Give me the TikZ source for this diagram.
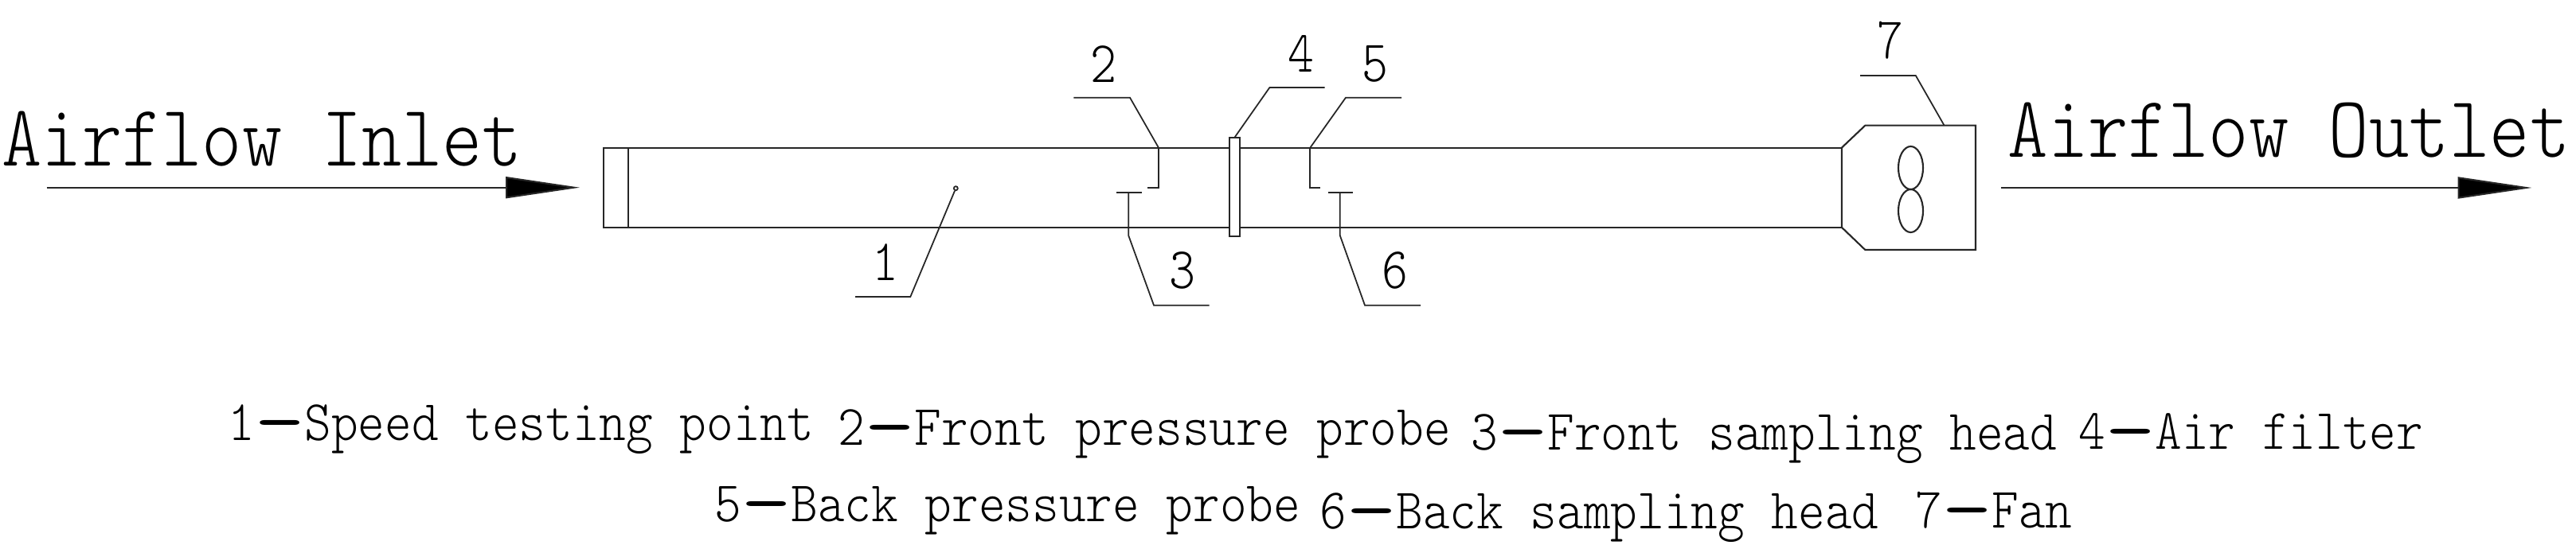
\documentclass[tikz,border=0pt]{standalone}
\usetikzlibrary{shapes.geometric}
\usetikzlibrary{arrows.meta,positioning}
\newcommand{\legdash}{\scalebox{1.85}[1]{\fontseries{b}\selectfont\textemdash}}
\tikzset{part line/.style={draw=black!85, line width=0.6pt}}
\tikzset{leader line/.style={draw=black!85, line width=0.5pt}}
\tikzset{flow arrow/.style={draw=black!85, line width=0.6pt, -{Triangle[length=0.93cm,width=0.27cm,fill=black]}}}
\tikzset{flow text/.style={anchor=base west, inner sep=0pt, font=\ttfamily\fontseries{l}\fontsize{31.3}{31.3}\selectfont, xscale=#1}}
\tikzset{part number/.style={anchor=base, inner sep=0pt, font=\ttfamily\fontseries{l}\fontsize{21}{21}\selectfont, xscale=0.85}}
\tikzset{legend text/.style={anchor=base west, inner sep=0pt, font=\ttfamily\fontseries{l}\fontsize{20.5}{20.5}\selectfont, xscale=#1}}
\tikzset{filter box/.style={part line, fill=white, minimum width=0.13cm, minimum height=1.24cm, inner sep=0pt}}
\tikzset{blade/.style={part line, ellipse, minimum width=0.31cm, minimum height=0.54cm, inner sep=0pt}}

\begin{document}
\begin{tikzpicture}
          \useasboundingbox (0,0) rectangle (32.35,6.9);
          % headings and flow arrows
          \node [flow text=0.87] (inlet)  at ( 0.02, 4.813) {Airflow Inlet};
          \node [flow text=0.873] (outlet) at (25.21, 4.923) {Airflow Outlet};
          \coordinate (inlet tail)  at ( 0.585, 4.543);
          \coordinate (inlet tip)   at ( 7.28,  4.543);
          \coordinate (outlet tail) at (25.126, 4.54);
          \coordinate (outlet tip)  at (31.796, 4.54);
          \draw [flow arrow] (inlet tail)  to (inlet tip);
          \draw [flow arrow] (outlet tail) to (outlet tip);

          % pipe
          \coordinate (pipe nw)  at ( 7.58,  5.043);
          \coordinate (pipe sw)  at ( 7.58,  4.043);
          \coordinate (pipe ne)  at (23.128, 5.043);
          \coordinate (pipe se)  at (23.128, 4.043);
          \coordinate (ring n)   at ( 7.89,  5.043);
          \coordinate (ring s)   at ( 7.89,  4.043);
          \draw [part line] (pipe ne) -- (pipe nw) -- (pipe sw) -- (pipe se);
          \draw [part line] (ring n) -- (ring s);

          % fan
          \coordinate (fan a) at (23.423, 5.323);
          \coordinate (fan b) at (24.81,  5.323);
          \coordinate (fan c) at (24.81,  3.76);
          \coordinate (fan d) at (23.423, 3.76);
          \draw [part line] (pipe ne) -- (fan a) -- (fan b) -- (fan c) -- (fan d) -- (pipe se) -- cycle;
          \node [blade] (blade1) at (23.995, 4.79) {};
          \node [blade] (blade2) at (23.995, 4.25) {};

          % filter
          \node [filter box] (filter) at (15.508, 4.547) {};

          % probes and sampling heads
          \coordinate (probe2 top) at (14.55, 5.043);
          \coordinate (probe2 bend) at (14.55, 4.54);
          \coordinate (probe2 end) at (14.41, 4.54);
          \coordinate (probe5 top) at (16.453, 5.043);
          \coordinate (probe5 bend) at (16.453, 4.54);
          \coordinate (probe5 end) at (16.58, 4.54);
          \coordinate (head3 l) at (14.023, 4.477);
          \coordinate (head3 r) at (14.337, 4.477);
          \coordinate (head3 m) at (14.172, 4.477);
          \coordinate (head6 l) at (16.68, 4.477);
          \coordinate (head6 r) at (16.985, 4.477);
          \coordinate (head6 m) at (16.828, 4.477);
          \draw [part line] (probe2 top) -- (probe2 bend) -- (probe2 end);
          \draw [part line] (probe5 top) -- (probe5 bend) -- (probe5 end);
          \draw [part line] (head3 l) -- (head3 r);
          \draw [part line] (head6 l) -- (head6 r);

          % leaders
          \node [draw=black!85, fill=white, circle, line width=0.5pt, minimum size=0.05cm, inner sep=0pt] (point1) at (12.003, 4.533) {};
          \coordinate (lead1 a) at (11.433, 3.17);
          \coordinate (lead1 b) at (10.74,  3.17);
          \coordinate (lead2 a) at (14.19,  5.673);
          \coordinate (lead2 b) at (13.484, 5.673);
          \coordinate (lead3 a) at (14.172, 3.94);
          \coordinate (lead3 b) at (14.49,  3.063);
          \coordinate (lead3 c) at (15.187, 3.063);
          \coordinate (lead4 a) at (15.944, 5.8);
          \coordinate (lead4 b) at (16.637, 5.8);
          \coordinate (lead5 a) at (16.9,   5.673);
          \coordinate (lead5 b) at (17.6,   5.673);
          \coordinate (lead6 a) at (16.828, 3.94);
          \coordinate (lead6 b) at (17.14,  3.063);
          \coordinate (lead6 c) at (17.84,  3.063);
          \coordinate (lead7 a) at (24.058, 5.95);
          \coordinate (lead7 b) at (23.36,  5.95);
          \coordinate (lead7 c) at (24.416, 5.323);
          \draw [leader line] (point1) -- (lead1 a) -- (lead1 b);
          \draw [leader line] (probe2 top) -- (lead2 a) -- (lead2 b);
          \draw [leader line] (head3 m) -- (lead3 a) -- (lead3 b) -- (lead3 c);
          \draw [leader line] (filter.north) -- (lead4 a) -- (lead4 b);
          \draw [leader line] (probe5 top) -- (lead5 a) -- (lead5 b);
          \draw [leader line] (head6 m) -- (lead6 a) -- (lead6 b) -- (lead6 c);
          \draw [leader line] (lead7 c) -- (lead7 a) -- (lead7 b);

          % part numbers
          \node [part number] (num1) at (11.12, 3.373) {1};
          \node [part number] (num2) at (13.86, 5.867) {2};
          \node [part number] (num3) at (14.85, 3.27)  {3};
          \node [part number] (num4) at (16.34, 5.993) {4};
          \node [part number] (num5) at (17.27, 5.87)  {5};
          \node [part number] (num6) at (17.52, 3.27)  {6};
          \node [part number] (num7) at (23.737, 6.16) {7};

          % legend
          \node [legend text=0.89] (leg1) at ( 2.86, 1.36)  {1\legdash Speed testing point};
          \node [legend text=0.89] (leg2) at (10.52, 1.307) {2\legdash Front pressure probe};
          \node [legend text=0.89] (leg3) at (18.47, 1.24)  {3\legdash Front sampling head};
          \node [legend text=0.89] (leg4) at (26.1, 1.25) {4\legdash Air filter};
          \node [legend text=0.89] (leg5) at ( 8.97, 0.343) {5\legdash Back pressure probe};
          \node [legend text=0.89] (leg6) at (16.57, 0.25)  {6\legdash Back sampling head};
          \node [legend text=0.89] (leg7) at (24.05, 0.26)  {7\legdash Fan};
\end{tikzpicture}
\end{document}
